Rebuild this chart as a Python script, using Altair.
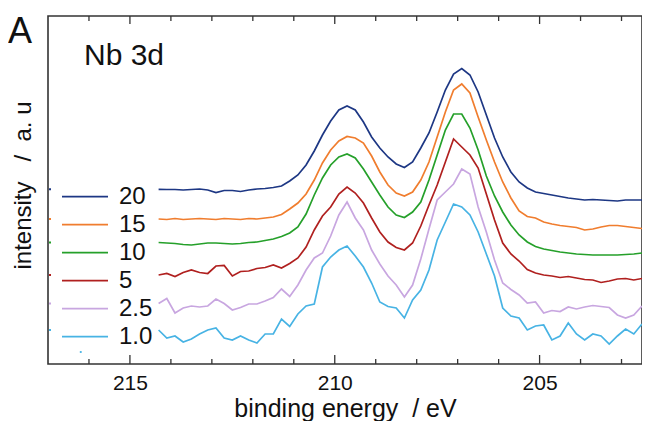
import altair as alt
import pandas as pd

# binding energy grid (eV)
energy = [214.3, 214.1, 213.9, 213.7, 213.5, 213.3, 213.1, 212.9, 212.7, 212.5,
          212.3, 212.1, 211.9, 211.7, 211.5, 211.3, 211.1, 210.9, 210.7, 210.5,
          210.3, 210.1, 209.9, 209.7, 209.5, 209.3, 209.1, 208.9, 208.7, 208.5,
          208.3, 208.1, 207.9, 207.7, 207.5, 207.3, 207.1, 206.9, 206.7, 206.5,
          206.3, 206.1, 205.9, 205.7, 205.5, 205.3, 205.1, 204.9, 204.7, 204.5,
          204.3, 204.1, 203.9, 203.7, 203.5, 203.3, 203.1, 202.9, 202.7, 202.5]

labels = ["20", "15", "10", "5", "2.5", "1.0"]
colors = ["#1d3784", "#f07d2e", "#25a02a", "#b0201f", "#c8a6e0", "#47b3e4"]

s20 = [174.7, 174.5, 174.5, 174, 174.5, 175, 174, 171.5, 173.5, 173.5,
       172.5, 174, 175, 175.5, 176.5, 178, 183, 189, 199, 213,
       229, 243, 254, 258, 254, 242, 227, 216, 207, 200,
       196.5, 202, 216, 231, 252, 274, 290, 295.5, 289, 272,
       249, 226, 207, 192, 182, 176, 172, 170.5, 169, 167.5,
       166, 165, 164, 164.5, 164, 163.5, 163, 164, 164, 164]
s15 = [145, 144.5, 145.5, 144.5, 145, 145.5, 145, 144.5, 145.5, 145,
       144.5, 145.5, 145, 146, 147, 149.5, 155, 161, 170, 184,
       201, 214, 223, 227.5, 226, 221, 208, 192, 179, 171,
       168, 172, 184, 202, 227, 252, 274, 280, 271, 247,
       224, 202, 182, 166, 153, 147.5, 146, 142, 140, 138.5,
       137.5, 136.5, 134, 135, 137, 138.5, 138.5, 137.5, 136.5, 135.5]
s10 = [121.5, 121, 120.5, 119.5, 119, 120, 121, 121, 120.5, 120,
       120.5, 121.5, 122, 123.5, 125, 127.5, 131, 137, 150, 169,
       186, 199, 207, 210, 206, 195, 182, 169, 157, 149,
       146.5, 152, 162, 184, 209, 234, 250, 250, 236, 214,
       188, 168, 152, 139, 129, 122, 117.5, 115, 113.5, 112,
       111, 110, 109.5, 109, 109, 109, 109, 109.5, 110, 111]
s5 = [89, 90.5, 87.5, 91.5, 94, 91.5, 90.5, 98, 98.5, 88,
      92.5, 93, 95.5, 96.5, 99, 96, 100.5, 106, 117, 134,
      148, 157, 170, 177, 171, 161, 146, 132, 122, 116.5,
      114, 121, 138, 159, 179, 202, 225, 217, 209, 196,
      170, 144, 121, 110, 103, 94.5, 91, 89, 88, 86.5,
      87.5, 86, 84.5, 84, 81.5, 83, 85, 85.5, 84, 85.5]
s2_5 = [60.5, 65.5, 51, 56, 58, 57, 58, 65, 60.5, 54,
        56.5, 60, 60, 63, 66.5, 75, 67.5, 79, 94, 106,
        111, 128, 149, 162, 146, 134, 114, 100, 88, 79,
        67, 79, 105, 135, 164, 172, 180, 195, 190, 157,
        132, 104, 81, 74.5, 69, 61, 62, 51, 53.5, 52.5,
        57, 55, 57, 58.5, 57.5, 56.5, 49, 46, 49, 58]
s1_0 = [34, 26, 28, 22, 25, 30, 34, 36, 26, 24,
        28, 24, 21, 30, 30, 45, 37.5, 50, 58, 60,
        97, 107, 114, 118, 108, 97, 81, 62, 57.5, 56,
        46, 64, 74, 94, 124, 142, 160, 157, 149, 132,
        110, 88, 56, 48, 46, 34, 38, 39, 24, 28,
        41, 30, 24, 30, 28, 20, 28, 35, 30, 40]

series = [s20, s15, s10, s5, s2_5, s1_0]

major_ticks = [215, 210, 205]
minor_ticks = [216, 214, 213, 212, 211, 209, 208, 207, 206, 204, 203]

# stray light-blue dot seen near the lower-left corner
stray_energy = [216.2]
stray_value = [12]

rows = []
for lab, vals in zip(labels, series):
    for e, v in zip(energy, vals):
        rows.append({"energy": e, "intensity": v, "sample": lab})
df = pd.DataFrame(rows)

starts = pd.DataFrame({"sample": labels, "intensity": [s[0] for s in series]})
maj = pd.DataFrame({"energy": major_ticks})
mino = pd.DataFrame({"energy": minor_ticks})
stray = pd.DataFrame({"energy": stray_energy, "intensity": stray_value})
leg = pd.DataFrame({"sample": labels, "row": list(range(len(labels)))})

FONT = "Liberation Sans"
NB = "\u00a0"
W, H = 594, 348
x_scale = alt.Scale(domain=[202.5, 217], reverse=True, nice=False, zero=False)
y_scale = alt.Scale(domain=[0, 348], nice=False, zero=False)
c_scale = alt.Scale(domain=labels, range=colors)

x_enc = alt.X("energy:Q", scale=x_scale,
              axis=alt.Axis(values=major_ticks, format="d",
                            title="binding energy" + NB + " / eV",
                            ticks=False, tickSize=0, domain=False, grid=False,
                            labelFontSize=21, labelPadding=8, labelColor="#111",
                            labelFont=FONT, titleFont=FONT, titleFontSize=25,
                            titleFontWeight="normal", titleColor="#111",
                            titleBaseline="alphabetic", titleY=52))

lines = alt.Chart(df).mark_line(strokeWidth=1.7, clip=True).encode(
    x=x_enc,
    y=alt.Y("intensity:Q", scale=y_scale,
            axis=alt.Axis(title="intensity" + NB + NB + " /" + NB + " a." + NB + "u",
                          labels=False, ticks=False, tickSize=0,
                          domain=False, grid=False, titleFont=FONT, titleFontSize=24,
                          titleFontWeight="normal", titleColor="#111",
                          titleBaseline="alphabetic", titleAlign="center",
                          titleAngle=270, titleX=-18, titleY=169)),
    color=alt.Color("sample:N", scale=c_scale, legend=None),
    order=alt.Order("energy:Q"),
)

start_marks = alt.Chart(starts).mark_rule(strokeWidth=2).encode(
    x=alt.value(1), x2=alt.value(3),
    y=alt.Y("intensity:Q", scale=y_scale),
    color=alt.Color("sample:N", scale=c_scale, legend=None),
)

stray_dot = alt.Chart(stray).mark_circle(size=5, color="#47b3e4", opacity=1).encode(
    x=alt.X("energy:Q", scale=x_scale),
    y=alt.Y("intensity:Q", scale=y_scale),
)

def tick_layer(data, y0, y1):
    return alt.Chart(data).mark_rule(color="#333", strokeWidth=1.3).encode(
        x=alt.X("energy:Q", scale=x_scale),
        y=alt.value(y0), y2=alt.value(y1),
    )

ticks = (tick_layer(maj, H, H - 9) + tick_layer(mino, H, H - 5)
         + tick_layer(maj, 0, 8) + tick_layer(mino, 0, 5))

# manual legend: one row per sample
leg_y = alt.Y("row:Q", scale=alt.Scale(domain=[0, 5], range=[180.7, 320.7], nice=False,
                                       zero=False), axis=None)
leg_lines = alt.Chart(leg).mark_rule(strokeWidth=1.7).encode(
    x=alt.value(14), x2=alt.value(60), y=leg_y,
    color=alt.Color("sample:N", scale=c_scale, legend=None),
)
leg_text = alt.Chart(leg).mark_text(
    font=FONT, fontSize=24, align="left", baseline="middle", color="#111"
).encode(x=alt.value(71), y=leg_y, text="sample:N")

nb = alt.Chart(pd.DataFrame({"t": ["Nb 3d"]})).mark_text(
    font=FONT, fontSize=30, align="left", baseline="alphabetic", color="#111"
).encode(x=alt.value(36), y=alt.value(49), text="t:N")

panel = alt.Chart(pd.DataFrame({"t": ["A"]})).mark_text(
    font=FONT, fontSize=36, align="left", baseline="alphabetic", color="#111"
).encode(x=alt.value(-40), y=alt.value(27), text="t:N")

main = alt.layer(lines, start_marks, stray_dot, ticks, nb, panel)
legend_layer = alt.layer(leg_lines, leg_text)

chart = alt.layer(main, legend_layer).resolve_scale(y="independent").properties(
    width=W, height=H,
    autosize=alt.AutoSizeParams(type="none"),
    padding={"left": 40, "top": 8, "right": 0, "bottom": 57},
).configure_view(stroke="#333", strokeWidth=1.6)

chart.save("out.html", embed_options={"renderer": "svg", "actions": False})
